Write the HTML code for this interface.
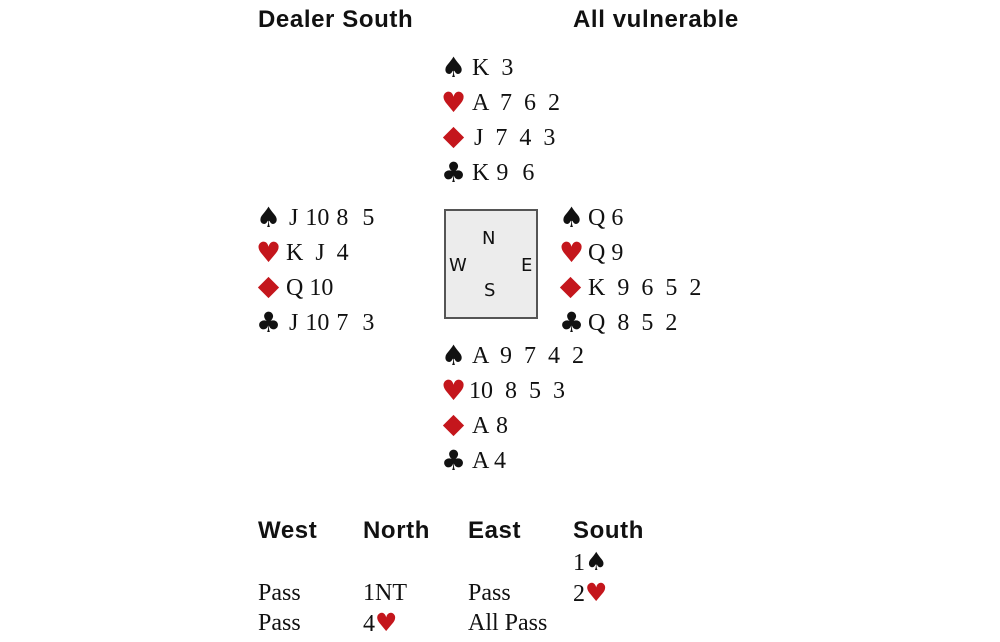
<!DOCTYPE html>
<html><head><meta charset="utf-8"><style>
body{margin:0;width:1000px;height:642px;background:#fff;position:relative;overflow:hidden}
.h{position:absolute;font-family:"Liberation Sans",sans-serif;font-weight:bold;font-size:24px;color:#111;line-height:30px;letter-spacing:0.6px}
.r{position:absolute;font-family:"Liberation Serif",serif;font-size:24px;color:#111;line-height:30px;height:30px;white-space:pre;word-spacing:6px}
.s{position:absolute;font-family:"DejaVu Sans",sans-serif;font-size:28px;line-height:30px;height:30px}
.dm{position:absolute;width:15px;height:15px;background:#c4161c;transform:rotate(45deg)}
.red{color:#c4161c}
.k{color:#111}
.box{position:absolute;left:444px;top:209px;width:90px;height:106px;background:#ececec;border:2px solid #555}
.d{position:absolute;font-family:"DejaVu Sans","Liberation Sans",sans-serif;font-size:18px;color:#111;line-height:20px}
</style></head><body>
<div class="h" style="left:258px;top:5px">Dealer South</div>
<div class="h" style="left:573px;top:5px">All vulnerable</div>

<!-- North -->
<div class="s k" style="left:441px;top:53px">♠</div><div class="r" style="left:472px;top:53px">K 3</div>
<div class="s red" style="left:441px;top:88px">♥</div><div class="r" style="left:472px;top:88px">A 7 6 2</div>
<div class="dm" style="left:446px;top:130px"></div><div class="r" style="left:474px;top:123px">J 7 4 3</div>
<div class="s k" style="left:441px;top:158px">♣</div><div class="r" style="left:472px;top:158px;word-spacing:1px">K 9  6</div>

<!-- West -->
<div class="s k" style="left:256px;top:203px">♠</div><div class="r" style="left:289px;top:203px;word-spacing:1px">J 10 8  5</div>
<div class="s red" style="left:256px;top:238px">♥</div><div class="r" style="left:286px;top:238px">K J 4</div>
<div class="dm" style="left:261px;top:280px"></div><div class="r" style="left:286px;top:273px;word-spacing:0">Q 10</div>
<div class="s k" style="left:256px;top:308px">♣</div><div class="r" style="left:289px;top:308px;word-spacing:1px">J 10 7  3</div>

<!-- Box -->
<div class="box"></div>
<div class="d" style="left:482px;top:229px">N</div>
<div class="d" style="left:449px;top:256px">W</div>
<div class="d" style="left:521px;top:256px">E</div>
<div class="d" style="left:484px;top:281px">S</div>

<!-- East -->
<div class="s k" style="left:559px;top:203px">♠</div><div class="r" style="left:588px;top:203px;word-spacing:0">Q 6</div>
<div class="s red" style="left:559px;top:238px">♥</div><div class="r" style="left:588px;top:238px;word-spacing:0">Q 9</div>
<div class="dm" style="left:563px;top:280px"></div><div class="r" style="left:588px;top:273px">K 9 6 5 2</div>
<div class="s k" style="left:559px;top:308px">♣</div><div class="r" style="left:588px;top:308px">Q 8 5 2</div>

<!-- South -->
<div class="s k" style="left:441px;top:341px">♠</div><div class="r" style="left:472px;top:341px">A 9 7 4 2</div>
<div class="s red" style="left:441px;top:376px">♥</div><div class="r" style="left:469px;top:376px;word-spacing:6px">10 8 5 3</div>
<div class="dm" style="left:446px;top:418px"></div><div class="r" style="left:472px;top:411px;word-spacing:2px">A 8</div>
<div class="s k" style="left:441px;top:446px">♣</div><div class="r" style="left:472px;top:446px;word-spacing:0">A 4</div>

<!-- Auction -->
<div class="h" style="left:258px;top:516px">West</div>
<div class="h" style="left:363px;top:516px">North</div>
<div class="h" style="left:468px;top:516px">East</div>
<div class="h" style="left:573px;top:516px">South</div>

<div class="r" style="left:573px;top:547px;word-spacing:0">1<span style="font-family:'DejaVu Sans',sans-serif;font-size:25px">♠</span></div>
<div class="r" style="left:258px;top:578px">Pass</div>
<div class="r" style="left:363px;top:578px">1NT</div>
<div class="r" style="left:468px;top:578px">Pass</div>
<div class="r" style="left:573px;top:578px;word-spacing:0">2<span class="red" style="font-family:'DejaVu Sans',sans-serif;font-size:25px">♥</span></div>
<div class="r" style="left:258px;top:608px">Pass</div>
<div class="r" style="left:363px;top:608px;word-spacing:0">4<span class="red" style="font-family:'DejaVu Sans',sans-serif;font-size:25px">♥</span></div>
<div class="r" style="left:468px;top:608px;word-spacing:0">All Pass</div>
</body></html>
